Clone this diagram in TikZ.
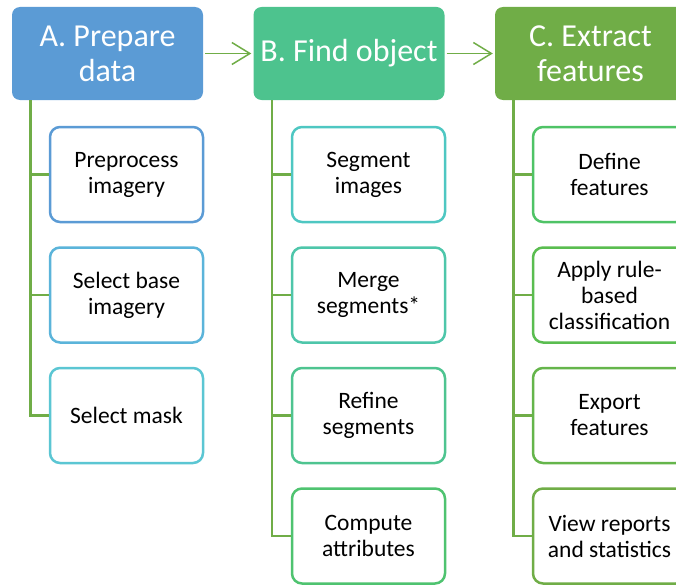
\documentclass[tikz,border=0pt]{standalone}
\usepackage{fontspec}
\setmainfont{Carlito}
\usetikzlibrary{arrows.meta}
\definecolor{hdrA}{HTML}{5B9BD5}
\definecolor{hdrB}{HTML}{4DC38E}
\definecolor{hdrC}{HTML}{70AD47}
\definecolor{a1c}{HTML}{5B9BD5}
\definecolor{a2c}{HTML}{5BB4DA}
\definecolor{a3c}{HTML}{5BC6D3}
\definecolor{b1c}{HTML}{4EC7C2}
\definecolor{b2c}{HTML}{4EC6AA}
\definecolor{b3c}{HTML}{4EC490}
\definecolor{b4c}{HTML}{4FC370}
\definecolor{c1c}{HTML}{4FC366}
\definecolor{c2c}{HTML}{5ABD50}
\definecolor{c3c}{HTML}{65B54B}
\definecolor{c4c}{HTML}{70AD47}
\definecolor{linkc}{HTML}{70AD47}
\tikzset{
  hdr/.style={rounded corners=8pt, minimum width=191pt, minimum height=93pt, inner sep=0pt,
    text=white, align=center, font=\fontsize{32}{35}\selectfont},
  sub/.style={draw, line width=2.5pt, fill=white, rounded corners=10pt, minimum width=153pt,
    minimum height=95pt, inner sep=0pt, text=black, align=center, font=\fontsize{23.5}{26}\selectfont},
  link/.style={draw=linkc, line width=2.5pt},
  flow/.style={draw=linkc, line width=1.5pt, -{Straight Barb[length=18pt,width=22pt,line width=1.5pt]},
    shorten >=2pt, shorten <=2pt}
}
\begin{document}
\begin{tikzpicture}[x=1pt,y=-1pt]
\useasboundingbox (0,0) rectangle (676,586);
\clip (0,0) rectangle (676,586);
% headers
\node[hdr, fill=hdrA] (A) at (107.5,53.5) {A. Prepare\\data};
\node[hdr, fill=hdrB] (B) at (349,53.5) {B. Find object};
\node[hdr, fill=hdrC] (C) at (590.5,53.5) {C. Extract\\features};
\draw[flow] (A.east) -- (B.west);
\draw[flow] (B.east) -- (C.west);
% column A
\node[sub, draw=a1c] (a1) at (126.5,174.5) {Preprocess\\imagery};
\node[sub, draw=a2c] (a2) at (126.5,295) {Select base\\imagery};
\node[sub, draw=a3c] (a3) at (126.5,415.5) {Select mask};
% column B
\node[sub, draw=b1c] (b1) at (368.5,174.5) {Segment\\images};
\node[sub, draw=b2c] (b2) at (368.5,295) {Merge\\segments*};
\node[sub, draw=b3c] (b3) at (368.5,415.5) {Refine\\segments};
\node[sub, draw=b4c] (b4) at (368.5,536) {Compute\\attributes};
% column C
\node[sub, draw=c1c] (c1) at (609.5,174.5) {Define\\features};
\node[sub, draw=c2c] (c2) at (609.5,295) {Apply rule-\\based\\classification};
\node[sub, draw=c3c] (c3) at (609.5,415.5) {Export\\features};
\node[sub, draw=c4c] (c4) at (609.5,536) {View reports\\and statistics};
% tree connectors
\coordinate (a0) at (30.5,100);
\coordinate (b0) at (272,100);
\coordinate (c0) at (513.5,100);
\draw[link] (a0) |- (a1.west);
\draw[link] (a0) |- (a2.west);
\draw[link] (a0) |- (a3.west);
\draw[link] (b0) |- (b1.west);
\draw[link] (b0) |- (b2.west);
\draw[link] (b0) |- (b3.west);
\draw[link] (b0) |- (b4.west);
\draw[link] (c0) |- (c1.west);
\draw[link] (c0) |- (c2.west);
\draw[link] (c0) |- (c3.west);
\draw[link] (c0) |- (c4.west);
\end{tikzpicture}
\end{document}
